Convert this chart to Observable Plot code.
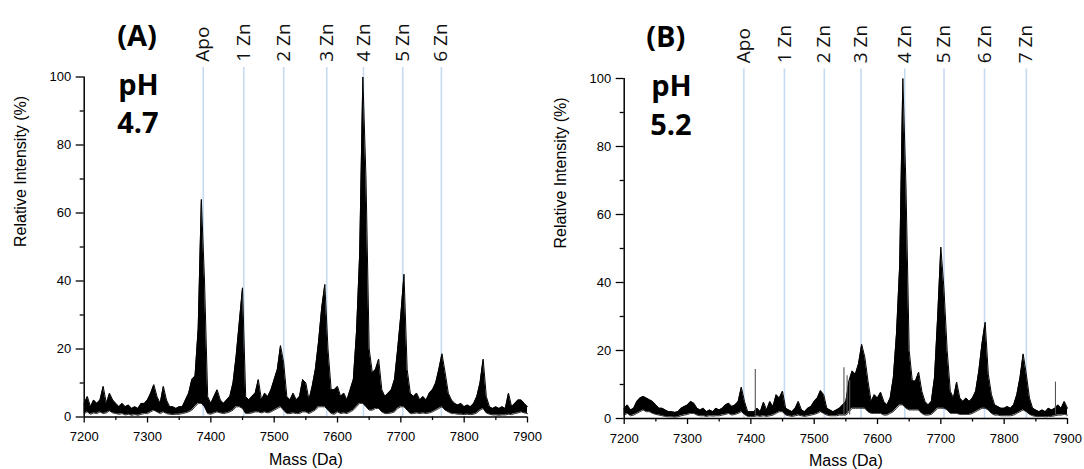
<!DOCTYPE html>
<html><head><meta charset="utf-8">
<script src="https://cdn.jsdelivr.net/npm/d3@7"></script>
<script src="https://cdn.jsdelivr.net/npm/@observablehq/plot@0.6"></script>
<style>
body{margin:0;background:#fff}
#wrap{position:relative;width:1084px;height:469px;overflow:hidden;background:#fff}
#a{position:absolute;left:0;top:0}
#b{position:absolute;left:542px;top:0}
</style></head><body><div id="wrap"><div id="a"></div><div id="b"></div></div>
<script>
// sampling grid (Da)
const mass = d3.range(7200, 7901, 5);

// Panel A (pH 4.7): upper / lower envelope of the spectrum
const hiA = [
 4,6,3,5,4,5,9,4,7,5,
 4,3,4,3,3.5,2.5,3,2.5,4,4,
 5,7,9.5,6,4,9,5,3,3,2.5,
 3,3,5,7,11,12,26,64,40,6,
 4,6,8,5,4,5,6,10,18,28,
 38,6,5,6,7,11,5,7,6,8,
 11,14,21,16,6,5,7,5,6,11,
 10,5,9,14,22,32,39,20,8,8,
 9,6,7,5,8,11,25,48,100,70,
 20,13,14,17,8,6,7,8,11,20,
 30,42,14,7,6,7,5,6,5,7,
 8,10,14,18.6,13,7,5,4,3.5,4,
 3,3.5,3,4,6,10,17,6,3,2.5,
 3,2.5,3,2.5,7,3,4,5,5,4,
 3];
const loA = [
 1,1.5,0.8,1.2,1,1.5,1,1.2,1.8,1.2,
 1,0.8,1,0.6,0.8,0.5,0.7,0.5,0.8,1,
 1,1.5,2,1.5,1,1.5,1,0.8,0.7,0.8,
 0.8,1,1.2,1.5,2,3,4,4,3,1,
 0.8,1.2,1.5,1.2,1,1.2,1.5,2,3,3,
 2.5,1,1,1.2,1.5,1.5,1.2,1.5,1.2,1.5,
 2,2.5,3,2,1,1,1.2,1,1,1.5,
 1.5,1,1.5,2,3,3,3,2,1,0.8,
 1.5,1,1.2,1,1.5,2,3,4,4,3,
 2,2,2.5,2.5,1.5,1,1,1.2,1.5,2.5,
 3,3,2,1,1,1.2,1,1.2,1,1.2,
 1.5,2,2.5,3,2,1.5,1,1,0.8,0.8,
 0.7,0.8,0.7,0.8,1.2,2,2.5,1.2,0.8,0.6,
 0.6,0.5,0.6,0.6,0.8,0.7,1,1.2,1.5,1.2,
 1];

// Panel B (pH 5.2)
const hiB = [
 3,4,2.5,3,5,6,6.5,6,5.5,5,
 4,3,3,2.5,2,2,1.8,2,3,3.5,
 4,5,4.5,3,2.5,3,2,2.5,2,3,
 2.5,3,4,4.5,3.5,4,5,9.2,5,2,
 2,2,3,2,4.8,2.5,5,3.5,7,6,
 8,3,2.5,2,3,5,2.5,2,3,3.5,
 5,6,8.2,7,3,2.5,2,2.5,3,4,
 5,11,14,13,16,21.8,18,11,5,7,
 6,7.7,5,4,6,12,25,45,100,68,
 20,11,11,13.6,8,5,4,5,12,30,
 50.4,38,20,8,6,10.7,6,5,6,5,
 6,8,14,22,28.3,13,7,4,3.5,3,
 3,3.5,3,4,7,12,19,13,6,3,
 2.5,2,2.5,2,3,2.5,3,4,3,5,
 3];
const loB = [
 1,1.5,0.8,1,1.5,2,2.5,2,2,1.5,
 1.2,1,0.8,0.6,0.5,0.5,0.4,0.5,0.8,1,
 1.2,1.5,1.5,1,0.8,0.8,0.6,0.8,0.7,0.8,
 0.8,1,1.2,1.5,1,1.2,1.5,2,1.2,0.6,
 0.6,0.6,0.8,0.6,0.8,0.6,0.8,1,1.5,2,
 2,1,0.8,0.6,0.8,1,0.8,0.6,0.8,1,
 1.2,1.5,2,1.5,1,0.8,0.8,0.8,1,1,
 1,2,3,3,3,3,3,2,1.5,1.5,
 1.5,1.5,1,1,1.5,2,3,4,4,3,
 2.5,2.5,2.5,2.5,1.5,1,1,1.2,2,3,
 3,3,2.5,1.5,1.5,1.5,1.2,1.2,1.2,1.2,
 1.5,2,2.5,3,3,2.5,1.5,1,1,0.8,
 0.8,0.8,0.8,1,1.5,2,2.5,2,1.2,0.8,
 0.6,0.6,0.6,0.5,0.6,0.6,0.8,1,1,1.2,
 1];

// isolated narrow spikes
const spikeMassA = [];
const spikeTopA = [];
const spikeMassB = [7407, 7547, 7552, 7556, 7881];
const spikeTopB = [14.4, 14.9, 12.6, 11.2, 10.7];

// species marker positions and labels
const markMassA = [7388, 7452, 7515, 7583, 7641, 7703, 7764];
const markLabelA = ["Apo", "1 Zn", "2 Zn", "3 Zn", "4 Zn", "5 Zn", "6 Zn"];
const markMassB = [7389, 7453, 7516, 7574, 7643, 7705, 7769, 7835];
const markLabelB = ["Apo", "1 Zn", "2 Zn", "3 Zn", "4 Zn", "5 Zn", "6 Zn", "7 Zn"];

const xTicks = [7200, 7300, 7400, 7500, 7600, 7700, 7800, 7900];
const xMinorTicks = [7250, 7350, 7450, 7550, 7650, 7750, 7850];
const yTicks = [0, 20, 40, 60, 80, 100];
const yMinorTicks = [10, 30, 50, 70, 90];
const xDomain = [7200, 7900];
const yDomain = [0, 100];
const xTitle = "Mass (Da)";
const yTitle = "Relative Intensity (%)";
const titleA = ["(A)", "pH", "4.7"];
const titleB = ["(B)", "pH", "5.2"];

function panel(el, hi, lo, sm, st, mm, ml, title, m, tdx) {
  const data = mass.map((x, i) => ({x, hi: hi[i], lo: lo[i]}));
  const spikes = sm.map((x, i) => ({x, v: st[i]}));
  const marks = mm.map((x, i) => ({x, label: ml[i]}));
  const big = {fontFamily: "'Open Sans', sans-serif", fontWeight: "bold", fontSize: 29, textAnchor: "start", lineAnchor: "middle", fill: "#000"};
  const svg = Plot.plot({
    width: 542, height: 469,
    marginLeft: m[0], marginRight: m[1], marginTop: m[2], marginBottom: m[3],
    x: {domain: xDomain},
    y: {domain: yDomain},
    style: {fontFamily: "'Liberation Sans', Arial, sans-serif", color: "#000", background: "#fff", overflow: "visible"},
    marks: [
      Plot.ruleX(marks, {x: "x", y1: 0, y2: 102.8, stroke: "#c6daf0", strokeWidth: 1.6}),
      Plot.areaY(data, {x: "x", y1: "lo", y2: "hi", fill: "#000"}),
      Plot.lineY(data, {x: "x", y: "hi", stroke: "#000", strokeWidth: 1}),
      Plot.lineY(data, {x: "x", y: "lo", stroke: "#000", strokeWidth: 0.8}),
      Plot.ruleX(spikes, {x: "x", y1: 1, y2: "v", stroke: "#555", strokeWidth: 1.1}),
      Plot.ruleX([xDomain[0]], {y1: yDomain[0], y2: yDomain[1], stroke: "#000", strokeWidth: 1.5}),
      Plot.ruleY([yDomain[0]], {x1: xDomain[0], x2: xDomain[1], stroke: "#000", strokeWidth: 1.5}),
      Plot.axisX({ticks: xTicks, tickSize: 6, tickPadding: 9, tickFormat: "d", fontSize: 13, label: null, strokeWidth: 1.3}),
      Plot.axisX({ticks: xMinorTicks, tickSize: 3.5, tickFormat: () => "", label: null, strokeWidth: 1.3}),
      Plot.axisY({ticks: yTicks, tickSize: 8, tickPadding: 5, fontSize: 13, label: null, strokeWidth: 1.3}),
      Plot.axisY({ticks: yMinorTicks, tickSize: 4, tickFormat: () => "", label: null, strokeWidth: 1.3}),
      Plot.text(marks, {x: "x", y: 104.5, text: "label", rotate: -90, textAnchor: "start", fontSize: 19, fontFamily: "'Open Sans', sans-serif", fill: "#111"}),
      Plot.text([yTitle], {frameAnchor: "left", dx: -63.7, rotate: -90, fontSize: 16, lineAnchor: "middle"}),
      Plot.text([xTitle], {frameAnchor: "bottom", dy: 42.5, fontSize: 16, lineAnchor: "middle"}),
      Plot.text([title[0]], {frameAnchor: "top-left", dx: tdx[0], dy: -40.5, ...big}),
      Plot.text([title[1]], {frameAnchor: "top-left", dx: tdx[1], dy: 8.5, ...big}),
      Plot.text([title[2]], {frameAnchor: "top-left", dx: tdx[2], dy: 47, ...big})
    ]
  });
  document.getElementById(el).appendChild(svg);
}

panel("a", hiA, loA, spikeMassA, spikeTopA, markMassA, markLabelA, titleA, [83.7, 15, 76.5, 52.5], [33, 34, 33]);
panel("b", hiB, loB, spikeMassB, spikeTopB, markMassB, markLabelB, titleB, [81.7, 17, 78, 51], [22, 27, 26]);
</script></body></html>
